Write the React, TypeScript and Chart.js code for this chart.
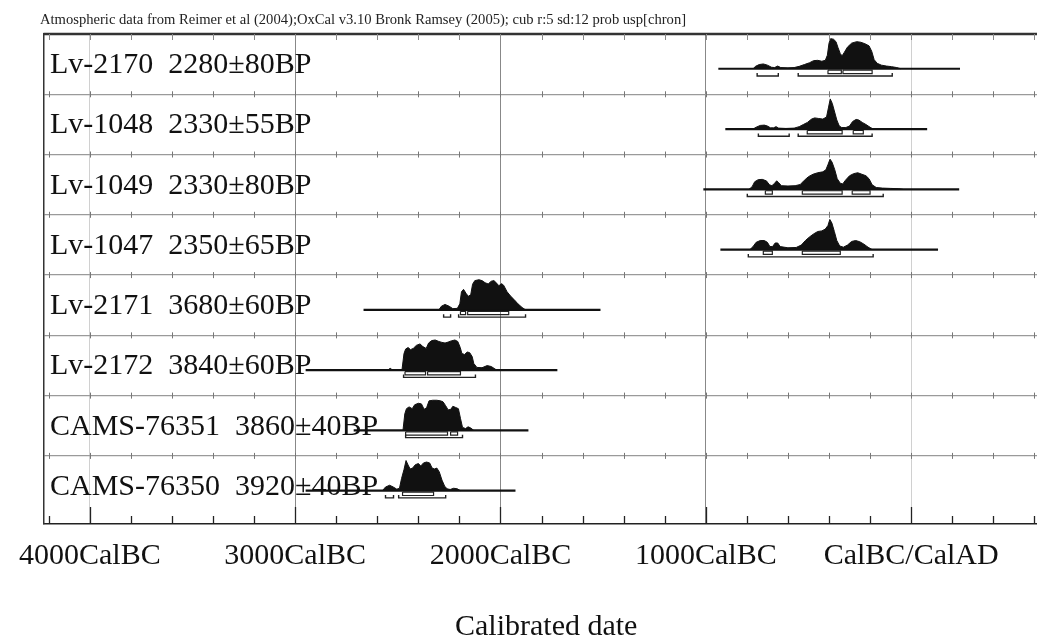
import React, { useEffect, useRef } from "react";
import { Chart, registerables } from "chart.js";

Chart.register(...registerables);

// ---------------- data ----------------
const TITLE =
  "Atmospheric data from Reimer et al (2004);OxCal v3.10 Bronk Ramsey (2005); cub r:5 sd:12 prob usp[chron]";
const X_TITLE = "Calibrated date";

const sampleNames = ["Lv-2170", "Lv-1048", "Lv-1049", "Lv-1047", "Lv-2171", "Lv-2172", "CAMS-76351", "CAMS-76350"];
const sampleAges = ["2280±80BP", "2330±55BP", "2330±80BP", "2350±65BP", "3680±60BP", "3840±60BP", "3860±40BP", "3920±40BP"];

const tickYears = [-4000, -3000, -2000, -1000, 0];
const tickLabels = ["4000CalBC", "3000CalBC", "2000CalBC", "1000CalBC", "CalBC/CalAD"];

// extent of each sample's horizontal base line (calendar years, BC negative)
const lineExtents = [
  [-939, 238],
  [-905, 78],
  [-1012, 234],
  [-929, 131],
  [-2667, -1513],
  [-2949, -1723],
  [-2715, -1864],
  [-2949, -1927],
];

// 68.2% probability ranges
const range68 = [
  [[-405, -340], [-332, -190]],
  [[-506, -336], [-282, -233]],
  [[-710, -676], [-530, -336], [-287, -200]],
  [[-720, -676], [-530, -345]],
  [[-2195, -2170], [-2160, -1960]],
  [[-2465, -2365], [-2355, -2195]],
  [[-2462, -2258], [-2243, -2209]],
  [[-2477, -2326]],
];

// 95.4% probability ranges
const range95 = [
  [[-750, -647], [-550, -92]],
  [[-744, -594], [-550, -190]],
  [[-798, -136]],
  [[-793, -185]],
  [[-2277, -2243], [-2204, -1878]],
  [[-2472, -2122]],
  [[-2462, -2185]],
  [[-2560, -2521], [-2496, -2267]],
];

// relative probability distributions [year, relative probability]
const distLv2170 = [
  [-770, 0], [-758, 0.08], [-740, 0.14], [-720, 0.16], [-700, 0.12], [-680, 0.05], [-665, 0.04], [-650, 0.09],
  [-635, 0.04], [-600, 0.03], [-570, 0.04], [-545, 0.08], [-520, 0.14], [-495, 0.2], [-475, 0.27], [-455, 0.28],
  [-435, 0.25], [-418, 0.28], [-408, 0.45], [-400, 0.85], [-392, 1.0], [-378, 0.98], [-366, 0.9], [-356, 0.7],
  [-345, 0.5], [-336, 0.43], [-325, 0.55], [-310, 0.72], [-290, 0.85], [-265, 0.9], [-245, 0.88], [-225, 0.83],
  [-205, 0.76], [-192, 0.58], [-180, 0.3], [-165, 0.18], [-145, 0.12], [-120, 0.09], [-95, 0.07], [-70, 0.04], [-50, 0],
];
const distLv1048 = [
  [-770, 0], [-755, 0.06], [-735, 0.12], [-715, 0.13], [-700, 0.1], [-685, 0.04], [-670, 0.04], [-658, 0.08],
  [-645, 0.03], [-610, 0.02], [-570, 0.03], [-545, 0.08], [-525, 0.15], [-505, 0.22], [-485, 0.33], [-470, 0.37],
  [-450, 0.35], [-430, 0.33], [-412, 0.4], [-403, 0.7], [-394, 1.0], [-384, 0.85], [-374, 0.6], [-362, 0.3],
  [-350, 0.1], [-338, 0.05], [-318, 0.05], [-300, 0.1], [-285, 0.25], [-268, 0.32], [-255, 0.3], [-238, 0.22],
  [-220, 0.15], [-200, 0.06], [-185, 0],
];
const distLv1049 = [
  [-790, 0], [-775, 0.08], [-762, 0.25], [-745, 0.32], [-725, 0.33], [-705, 0.28], [-690, 0.15], [-678, 0.12],
  [-665, 0.2], [-655, 0.28], [-645, 0.22], [-632, 0.12], [-600, 0.11], [-565, 0.12], [-540, 0.16], [-520, 0.3],
  [-500, 0.42], [-478, 0.5], [-455, 0.55], [-430, 0.58], [-415, 0.65], [-405, 0.82], [-395, 1.0], [-385, 0.9],
  [-372, 0.65], [-360, 0.35], [-345, 0.2], [-333, 0.18], [-320, 0.3], [-300, 0.45], [-280, 0.52], [-260, 0.55],
  [-240, 0.5], [-220, 0.45], [-205, 0.35], [-190, 0.15], [-170, 0.06], [-140, 0.04], [-100, 0.03], [-60, 0.02], [-40, 0],
];
const distLv1047 = [
  [-785, 0], [-770, 0.1], [-755, 0.24], [-735, 0.3], [-715, 0.3], [-700, 0.24], [-688, 0.1], [-675, 0.1],
  [-662, 0.22], [-650, 0.22], [-638, 0.1], [-600, 0.06], [-560, 0.07], [-535, 0.15], [-515, 0.3], [-495, 0.42],
  [-475, 0.52], [-455, 0.6], [-435, 0.62], [-418, 0.68], [-405, 0.8], [-396, 1.0], [-386, 0.88], [-374, 0.6],
  [-362, 0.3], [-348, 0.12], [-330, 0.08], [-310, 0.15], [-290, 0.27], [-270, 0.3], [-250, 0.26], [-230, 0.18],
  [-210, 0.08], [-190, 0],
];
const distLv2171 = [
  [-2300, 0], [-2288, 0.12], [-2270, 0.18], [-2250, 0.12], [-2232, 0.04], [-2210, 0.05], [-2198, 0.2], [-2190, 0.6],
  [-2180, 0.68], [-2168, 0.55], [-2157, 0.45], [-2145, 0.5], [-2136, 0.85], [-2125, 0.97], [-2105, 1.0], [-2090, 0.97],
  [-2075, 0.9], [-2060, 0.86], [-2045, 0.95], [-2032, 0.97], [-2018, 0.88], [-2008, 0.8], [-1995, 0.87], [-1985, 0.82],
  [-1968, 0.6], [-1950, 0.45], [-1935, 0.35], [-1915, 0.2], [-1895, 0.08], [-1878, 0],
];
const distLv2172 = [
  [-2550, 0], [-2537, 0.06], [-2525, 0], [-2480, 0], [-2470, 0.55], [-2462, 0.7], [-2450, 0.75], [-2438, 0.68],
  [-2425, 0.72], [-2410, 0.82], [-2392, 0.87], [-2378, 0.78], [-2362, 0.72], [-2350, 0.9], [-2335, 0.98], [-2318, 1.0],
  [-2300, 0.95], [-2285, 0.92], [-2270, 0.9], [-2255, 0.93], [-2240, 0.97], [-2222, 1.0], [-2208, 0.95], [-2196, 0.75],
  [-2188, 0.55], [-2175, 0.52], [-2162, 0.6], [-2150, 0.58], [-2138, 0.45], [-2130, 0.22], [-2115, 0.09], [-2090, 0.08],
  [-2065, 0.15], [-2045, 0.12], [-2025, 0.03], [-2010, 0],
];
const distCams76351 = [
  [-2475, 0], [-2466, 0.55], [-2458, 0.72], [-2445, 0.78], [-2430, 0.72], [-2418, 0.85], [-2400, 0.9], [-2385, 0.88],
  [-2372, 0.7], [-2360, 0.75], [-2348, 0.98], [-2330, 1.0], [-2310, 1.0], [-2292, 0.98], [-2280, 0.95], [-2268, 0.83],
  [-2255, 0.68], [-2242, 0.7], [-2232, 0.8], [-2218, 0.76], [-2205, 0.72], [-2195, 0.4], [-2185, 0.1], [-2170, 0.06],
  [-2158, 0.12], [-2145, 0.08], [-2130, 0],
];
const distCams76350 = [
  [-2575, 0], [-2560, 0.12], [-2540, 0.18], [-2522, 0.12], [-2505, 0.05], [-2492, 0.08], [-2482, 0.4], [-2470, 0.7],
  [-2460, 1.0], [-2450, 0.85], [-2440, 0.72], [-2428, 0.75], [-2415, 0.86], [-2400, 0.9], [-2388, 0.82], [-2375, 0.92],
  [-2360, 0.95], [-2345, 0.92], [-2333, 0.75], [-2322, 0.72], [-2310, 0.75], [-2298, 0.62], [-2285, 0.35], [-2272, 0.15],
  [-2260, 0.06], [-2245, 0.04], [-2228, 0.08], [-2210, 0.06], [-2195, 0],
];

const distributions = [
  distLv2170, distLv1048, distLv1049, distLv1047, distLv2171, distLv2172, distCams76351, distCams76350,
];

// ---------------- layout / style ----------------
const W = 1037;
const H = 637;
const X_MIN = -4226;
const X_MAX = 613;
const ROWS = sampleNames.length;
const ROW_PX = 62.4;
const PX = 1 / ROW_PX; // one pixel in row units
const Y_MIN = -0.13;
const BASE_OFFSET = 36 * PX;
const PEAK = 0.5;
const SERIF = "'Liberation Serif', 'Times New Roman', 'DejaVu Serif', serif";
const INK = "#111";

function buildDatasets() {
  const ds: any[] = [];
  for (let k = 0; k < ROWS; k++) {
    const top = ROWS - k;
    const base = top - BASE_OFFSET;
    ds.push({
      data: distributions[k].map(([x, p]) => ({ x, y: base + p * PEAK })),
      borderColor: INK,
      backgroundColor: INK,
      borderWidth: 1,
      fill: { value: base },
      pointRadius: 0,
      tension: 0,
    });
    ds.push({
      data: lineExtents[k].map((x) => ({ x, y: base })),
      borderColor: INK,
      borderWidth: 2.2,
      fill: false,
      pointRadius: 0,
    });
    const r68: any[] = [];
    range68[k].forEach(([a, c]) => {
      const y1 = base - 1.5 * PX;
      const y2 = base - 5 * PX;
      r68.push({ x: a, y: y1 }, { x: a, y: y2 }, { x: c, y: y2 }, { x: c, y: y1 }, { x: a, y: y1 }, { x: c, y: null });
    });
    ds.push({ data: r68, borderColor: "#222", borderWidth: 1.2, fill: false, pointRadius: 0, spanGaps: false });
    const r95: any[] = [];
    range95[k].forEach(([a, c]) => {
      const y1 = base - 4.5 * PX;
      const y2 = base - 7.5 * PX;
      r95.push({ x: a, y: y1 }, { x: a, y: y2 }, { x: c, y: y2 }, { x: c, y: y1 }, { x: c, y: null });
    });
    ds.push({ data: r95, borderColor: "#222", borderWidth: 1.4, fill: false, pointRadius: 0, spanGaps: false });
  }
  return ds;
}

const decorPlugin = {
  id: "oxcalDecor",
  afterDraw(chart: any) {
    const { ctx, chartArea, scales } = chart;
    const xs = scales.x;
    const ys = scales.y;
    ctx.save();
    // minor tick positions every 200 years
    const minor: number[] = [];
    for (let v = -4200; v <= 600; v += 200) minor.push(v);

    // row separator tick marks
    ctx.strokeStyle = "#777";
    ctx.lineWidth = 1;
    for (let r = 1; r < ROWS; r++) {
      const py = ys.getPixelForValue(r);
      minor.forEach((v) => {
        const px = Math.round(xs.getPixelForValue(v)) + 0.5;
        if (px < chartArea.left + 2 || px > chartArea.right) return;
        ctx.beginPath();
        ctx.moveTo(px, py - 3);
        ctx.lineTo(px, py + 3);
        ctx.stroke();
      });
    }
    // top border with downward ticks
    ctx.strokeStyle = "#333";
    ctx.lineWidth = 2.5;
    ctx.beginPath();
    ctx.moveTo(chartArea.left, chartArea.top);
    ctx.lineTo(chartArea.right, chartArea.top);
    ctx.stroke();
    ctx.strokeStyle = "#888";
    ctx.lineWidth = 1;
    minor.forEach((v) => {
      const px = Math.round(xs.getPixelForValue(v)) + 0.5;
      if (px < chartArea.left + 2 || px > chartArea.right) return;
      ctx.beginPath();
      ctx.moveTo(px, chartArea.top);
      ctx.lineTo(px, chartArea.top + 6);
      ctx.stroke();
    });
    // bottom axis ticks pointing up
    ctx.strokeStyle = "#222";
    ctx.lineWidth = 1.3;
    minor.forEach((v) => {
      const px = Math.round(xs.getPixelForValue(v)) + 0.5;
      if (px < chartArea.left || px > chartArea.right) return;
      const len = v % 1000 === 0 ? 17 : 8;
      ctx.beginPath();
      ctx.moveTo(px, chartArea.bottom);
      ctx.lineTo(px, chartArea.bottom - len);
      ctx.stroke();
    });

    // title
    ctx.fillStyle = "#222";
    ctx.font = `14.6px ${SERIF}`;
    ctx.textBaseline = "alphabetic";
    ctx.textAlign = "left";
    ctx.fillText(TITLE, 40, 24);

    // row labels
    ctx.fillStyle = INK;
    ctx.font = `30px ${SERIF}`;
    ctx.textBaseline = "alphabetic";
    for (let k = 0; k < ROWS; k++) {
      const py = ys.getPixelForValue(ROWS - k) + 39;
      ctx.fillText(`${sampleNames[k]}  ${sampleAges[k]}`, 50, py);
    }

    // axis title
    ctx.textAlign = "center";
    ctx.fillText(X_TITLE, (chartArea.left + chartArea.right) / 2 + 6, 635);
    ctx.restore();
  },
};

export default function App() {
  const ref = useRef<HTMLCanvasElement | null>(null);
  useEffect(() => {
    if (!ref.current) return;
    const chart = new Chart(ref.current, {
      type: "line",
      data: { datasets: buildDatasets() },
      options: {
        animation: false,
        responsive: false,
        devicePixelRatio: 1,
        events: [],
        layout: { padding: { left: 43, top: 34, right: 0, bottom: 49 } },
        plugins: { legend: { display: false }, tooltip: { enabled: false }, title: { display: false } },
        scales: {
          x: {
            type: "linear",
            min: X_MIN,
            max: X_MAX,
            afterBuildTicks: (axis: any) => {
              axis.ticks = tickYears.map((value) => ({ value }));
            },
            ticks: {
              autoSkip: false,
              maxRotation: 0,
              minRotation: 0,
              padding: 17,
              color: INK,
              font: { family: SERIF, size: 30, lineHeight: 1 },
              callback: (_v: any, i: number) => tickLabels[i],
            },
            grid: {
              drawTicks: false,
              color: (c: any) =>
                c.tick && (c.tick.value === 0 || c.tick.value === -4000) ? "#d0d0d0" : "#888",
              lineWidth: 1,
            },
            border: { display: true, color: "#222", width: 1.5 },
          },
          y: {
            type: "linear",
            min: Y_MIN,
            max: ROWS,
            afterBuildTicks: (axis: any) => {
              const t: any[] = [];
              for (let r = 1; r < ROWS; r++) t.push({ value: r });
              axis.ticks = t;
            },
            ticks: { display: false },
            grid: { drawTicks: false, color: "#9a9a9a", lineWidth: 1.2 },
            border: { display: true, color: "#333", width: 1.5 },
          },
        },
      },
      plugins: [decorPlugin],
    });
    return () => chart.destroy();
  }, []);
  return (
    <div style={{ position: "fixed", left: 0, top: 0, width: W, height: H, background: "#fff" }}>
      <canvas ref={ref} width={W} height={H} style={{ display: "block" }} />
    </div>
  );
}
